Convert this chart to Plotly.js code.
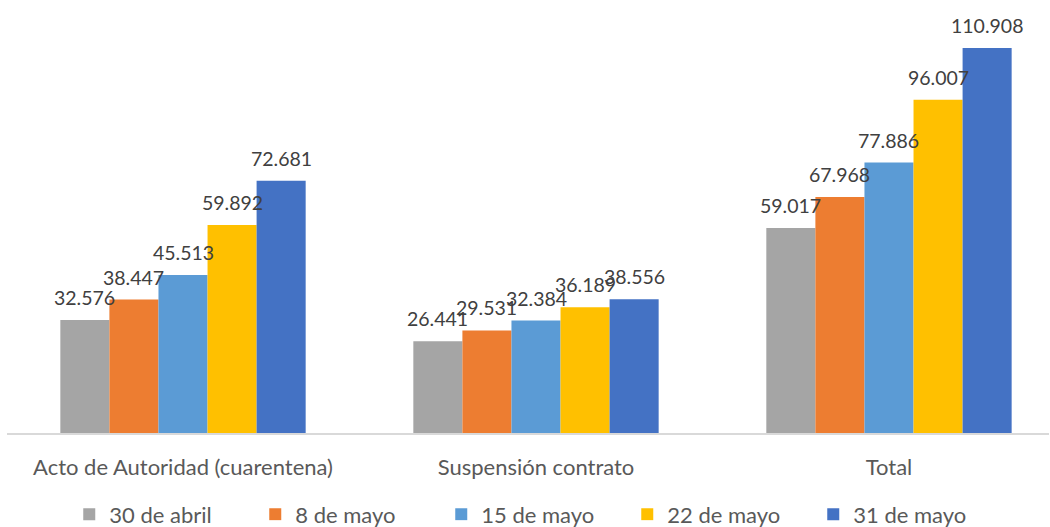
<!DOCTYPE html>
<html>
<head>
<meta charset="utf-8">
<script src="https://cdn.plot.ly/plotly-3.0.1.min.js"></script>
<style>html,body{margin:0;padding:0;background:#fff;}#chart{width:1050px;height:527px;}</style>
</head>
<body>
<div id="chart"></div>
<script>
const categories = ["Acto de Autoridad (cuarentena)", "Suspensión contrato", "Total"];
const seriesNames = ["30 de abril", "8 de mayo", "15 de mayo", "22 de mayo", "31 de mayo"];
const abr30 = [32576, 26441, 59017];
const may08 = [38447, 29531, 67968];
const may15 = [45513, 32384, 77886];
const may22 = [59892, 36189, 96007];
const may31 = [72681, 38556, 110908];
const colors = ["#A5A5A5", "#ED7D31", "#5B9BD5", "#FFC000", "#4472C4"];

const series = [abr30, may08, may15, may22, may31];
const bargap = 0.305;
const fmt = v => String(v).replace(/\B(?=(\d{3})+(?!\d))/g, ".");
const font = "Lato, 'Open Sans', sans-serif";

const traces = series.map((vals, s) => ({
  type: "bar",
  name: seriesNames[s],
  x: categories,
  y: vals,
  marker: {color: colors[s]},
  hoverinfo: "none"
}));

const w = (1 - bargap) / series.length;
const annotations = [];
series.forEach((vals, s) => {
  vals.forEach((v, i) => {
    annotations.push({
      xref: "x", yref: "y",
      x: i + (s - (series.length - 1) / 2) * w,
      y: v,
      text: fmt(v),
      showarrow: false,
      xanchor: "center", yanchor: "bottom",
      yshift: 9,
      font: {family: font, size: 19.5, color: "#404040"}
    });
  });
});

const layout = {
  width: 1050, height: 527,
  margin: {l: 7, r: 1, t: 20, b: 94},
  paper_bgcolor: "#ffffff", plot_bgcolor: "#ffffff",
  barmode: "group",
  bargap: bargap,
  bargroupgap: 0,
  showlegend: true,
  legend: {
    orientation: "h", x: 0.506, xanchor: "center",
    yref: "container", y: 0.024, yanchor: "middle",
    font: {family: font, size: 22, color: "#595959"},
    entrywidth: 141, traceorder: "normal"
  },
  xaxis: {
    type: "category",
    range: [-0.4986, 2.4533],
    automargin: false,
    showline: true, linecolor: "#d9d9d9", linewidth: 2,
    ticks: "outside", ticklen: 14, tickcolor: "rgba(0,0,0,0)",
    tickfont: {family: font, size: 22, color: "#595959"},
    showgrid: false, zeroline: false, fixedrange: true
  },
  yaxis: {
    range: [0, 118970],
    automargin: false,
    visible: false, showgrid: false, zeroline: false, fixedrange: true
  },
  annotations: annotations
};

Plotly.newPlot("chart", traces, layout, {displayModeBar: false, staticPlot: true});
</script>
</body>
</html>
